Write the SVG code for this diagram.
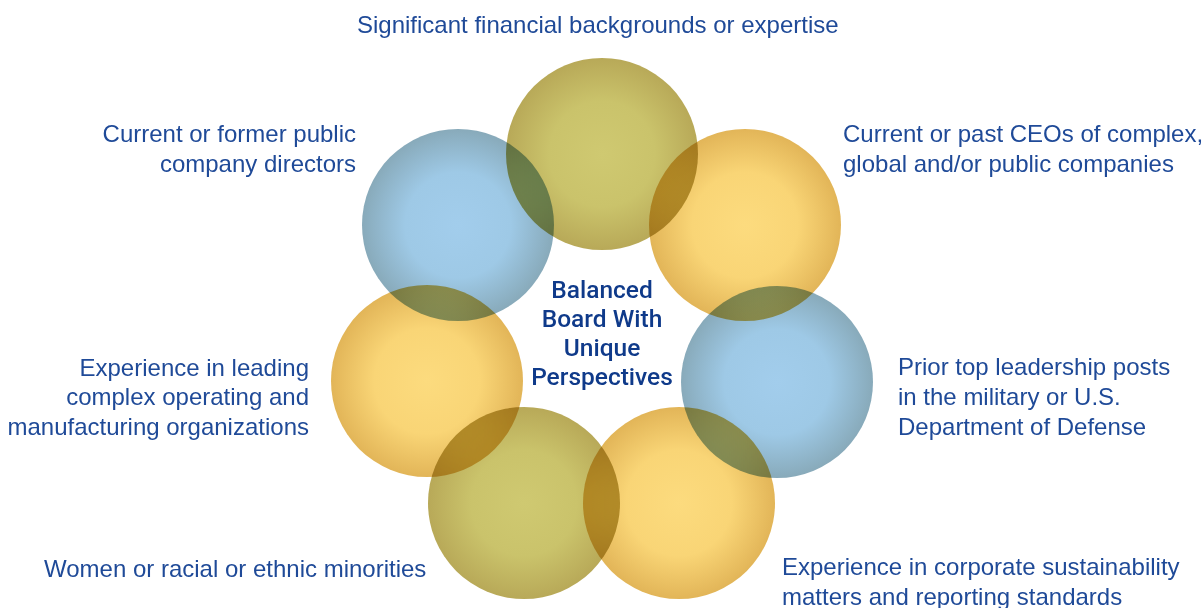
<svg xmlns="http://www.w3.org/2000/svg" width="1203" height="608" viewBox="0 0 1203 608">
  <style>
    .lbl { font-family: "Liberation Sans", Arial, sans-serif; font-size: 24px; fill: #1f4a98; }
    .ctr { font-family: Roboto, "Liberation Sans", Arial, sans-serif; font-size: 24.5px; font-weight: 500; fill: #0f3a8a; text-anchor: middle; }
    .end { text-anchor: end; }
    .disc { mix-blend-mode: multiply; }
  </style>
  <defs>
    <radialGradient id="gBlue" cx="50%" cy="50%" r="50%">
      <stop offset="0" stop-color="#a2cdec"/>
      <stop offset="0.55" stop-color="#9ec9e6"/>
      <stop offset="1" stop-color="#88aaba"/>
    </radialGradient>
    <radialGradient id="gGold" cx="50%" cy="50%" r="50%">
      <stop offset="0" stop-color="#fcdb7e"/>
      <stop offset="0.55" stop-color="#f9d576"/>
      <stop offset="1" stop-color="#e2b558"/>
    </radialGradient>
    <radialGradient id="gOlive" cx="50%" cy="50%" r="50%">
      <stop offset="0" stop-color="#cfc971"/>
      <stop offset="0.55" stop-color="#cac36b"/>
      <stop offset="1" stop-color="#b8a958"/>
    </radialGradient>
  </defs>

  <rect width="1203" height="608" fill="#ffffff"/>

  <!-- ring of seven overlapping discs -->
  <g id="disc-financial"><circle class="disc" cx="602" cy="154" r="96" fill="url(#gOlive)"/></g>
  <g id="disc-ceo"><circle class="disc" cx="745" cy="225" r="96" fill="url(#gGold)"/></g>
  <g id="disc-military"><circle class="disc" cx="777" cy="382" r="96" fill="url(#gBlue)"/></g>
  <g id="disc-sustainability"><circle class="disc" cx="679" cy="503" r="96" fill="url(#gGold)"/></g>
  <g id="disc-diversity"><circle class="disc" cx="524" cy="503" r="96" fill="url(#gOlive)"/></g>
  <g id="disc-operating"><circle class="disc" cx="427" cy="381" r="96" fill="url(#gGold)"/></g>
  <g id="disc-directors"><circle class="disc" cx="458" cy="225" r="96" fill="url(#gBlue)"/></g>

  <g id="connectors"></g>

  <!-- centre title -->
  <g id="center">
    <text class="ctr" x="602" y="298">Balanced</text>
    <text class="ctr" x="602" y="327">Board With</text>
    <text class="ctr" x="602" y="356">Unique</text>
    <text class="ctr" x="602" y="385">Perspectives</text>
  </g>

  <!-- labels -->
  <g id="label-financial">
    <text class="lbl" x="357" y="33">Significant financial backgrounds or expertise</text>
  </g>
  <g id="label-directors">
    <text class="lbl end" x="356" y="142">Current or former public</text>
    <text class="lbl end" x="356" y="172">company directors</text>
  </g>
  <g id="label-ceo">
    <text class="lbl" x="843" y="142">Current or past CEOs of complex,</text>
    <text class="lbl" x="843" y="172">global and/or public companies</text>
  </g>
  <g id="label-operating">
    <text class="lbl end" x="309" y="376">Experience in leading</text>
    <text class="lbl end" x="309" y="405">complex operating and</text>
    <text class="lbl end" x="309" y="435">manufacturing organizations</text>
  </g>
  <g id="label-military">
    <text class="lbl" x="898" y="375">Prior top leadership posts</text>
    <text class="lbl" x="898" y="405">in the military or U.S.</text>
    <text class="lbl" x="898" y="435">Department of Defense</text>
  </g>
  <g id="label-diversity">
    <text class="lbl" x="44" y="577">Women or racial or ethnic minorities</text>
  </g>
  <g id="label-sustainability">
    <text class="lbl" x="782" y="575">Experience in corporate sustainability</text>
    <text class="lbl" x="782" y="605">matters and reporting standards</text>
  </g>
</svg>
